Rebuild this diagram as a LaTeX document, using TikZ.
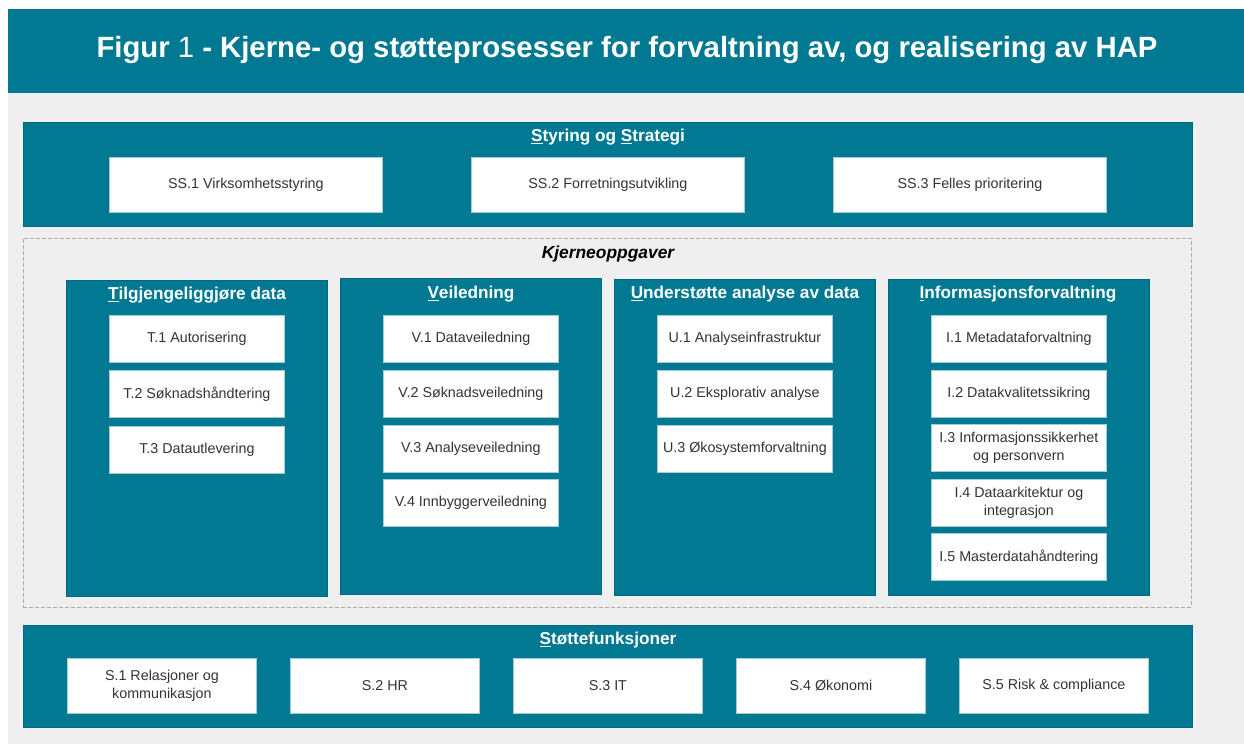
\documentclass[tikz,border=0pt]{standalone}
\usepackage{fontspec}
\setmainfont{Liberation Sans}
\definecolor{teal1}{RGB}{2,121,146}
\definecolor{tealedge}{RGB}{0,104,128}
\definecolor{bggrey}{RGB}{239,239,239}
\definecolor{dashgrey}{RGB}{170,170,170}
\definecolor{boxedge}{RGB}{168,204,214}
\definecolor{boxtext}{RGB}{51,51,51}
\begin{document}
\begin{tikzpicture}[x=1pt,y=-1pt,
  band/.style={fill=teal1,draw=tealedge,line width=0.6pt,anchor=north west,inner sep=0pt},
  wbox/.style={fill=white,draw=boxedge,line width=0.8pt,anchor=north west,inner sep=1pt,
    align=center,text=boxtext,font=\fontsize{14.3}{17.5}\selectfont},
  ibox/.style={wbox,minimum width=175pt,minimum height=47pt},
  sbox/.style={wbox,minimum width=273pt,minimum height=55pt},
  bbox/.style={wbox,minimum width=189pt,minimum height=55pt},
  col/.style={band,minimum width=261pt,minimum height=316pt},
  head/.style={text=white,font=\fontsize{17.2}{20}\selectfont\bfseries,inner sep=0pt},
]
\useasboundingbox (0,0) rectangle (1244,744);
\fill[white] (0,0) rectangle (1244,744);
\node[fill=bggrey,anchor=north west,minimum width=1236pt,minimum height=652pt,inner sep=0pt] (bg) at (8,92) {};
\node[fill=teal1,anchor=north west,minimum width=1236pt,minimum height=84pt,inner sep=0pt] (titleband) at (8,9) {};
\node[text=white,font=\fontsize{29.3}{34}\selectfont] (title) at (627,50)
  {\bfseries Figur \mdseries 1 \bfseries - Kjerne- og støtteprosesser for forvaltning av, og realisering av HAP};

% Styring og Strategi
\node[band,minimum width=1169pt,minimum height=104pt] (ssband) at (23,122) {};
\node[head] (sshead) at (608,137) {\underline{S}tyring og \underline{S}trategi};
\node[sbox] (ss1) at (109,157) {SS.1 Virksomhetsstyring};
\node[sbox] (ss2) at (471,157) {SS.2 Forretningsutvikling};
\node[sbox] (ss3) at (833,157) {SS.3 Felles prioritering};

% Kjerneoppgaver
\node[draw=dashgrey,dashed,dash pattern=on 4pt off 2pt,line width=0.7pt,anchor=north west,
  minimum width=1168pt,minimum height=369pt,inner sep=0pt] (kjerne) at (23,238) {};
\node[font=\fontsize{17.4}{20}\selectfont\bfseries\itshape,text=black,inner sep=0pt] (kjhead) at (608,254) {Kjerneoppgaver};

\node[col] (colT) at (66,280) {};
\node[col] (colV) at (340,278) {};
\node[col] (colU) at (614,279) {};
\node[col] (colI) at (888,279) {};
\node[head] (hT) at (197,295) {\underline{T}ilgjengeliggjøre data};
\node[head] (hV) at (471,294) {\underline{V}eiledning};
\node[head] (hU) at (745,294) {\underline{U}nderstøtte analyse av data};
\node[head] (hI) at (1018,294) {\underline{I}nformasjonsforvaltning};

\node[ibox] (t1) at (109,315) {T.1 Autorisering};
\node[ibox] (t2) at (109,370) {T.2 Søknadshåndtering};
\node[ibox] (t3) at (109,426) {T.3 Datautlevering};

\node[ibox] (v1) at (383,315) {V.1 Dataveiledning};
\node[ibox] (v2) at (383,370) {V.2 Søknadsveiledning};
\node[ibox] (v3) at (383,425) {V.3 Analyseveiledning};
\node[ibox] (v4) at (383,479) {V.4 Innbyggerveiledning};

\node[ibox] (u1) at (657,315) {U.1 Analyseinfrastruktur};
\node[ibox] (u2) at (657,370) {U.2 Eksplorativ analyse};
\node[ibox] (u3) at (657,425) {U.3 Økosystemforvaltning};

\node[ibox] (i1) at (931,315) {I.1 Metadataforvaltning};
\node[ibox] (i2) at (931,370) {I.2 Datakvalitetssikring};
\node[ibox] (i3) at (931,424) {I.3 Informasjonssikkerhet\\og personvern};
\node[ibox] (i4) at (931,479) {I.4 Dataarkitektur og\\integrasjon};
\node[ibox] (i5) at (931,533) {I.5 Masterdatahåndtering};

% Støttefunksjoner
\node[band,minimum width=1169pt,minimum height=102pt] (sband) at (23,625) {};
\node[head] (shead) at (608,640) {\underline{S}tøttefunksjoner};
\node[bbox] (s1) at (67,658) {S.1 Relasjoner og\\kommunikasjon};
\node[bbox] (s2) at (290,658) {S.2 HR};
\node[bbox] (s3) at (513,658) {S.3 IT};
\node[bbox] (s4) at (736,658) {S.4 Økonomi};
\node[bbox] (s5) at (959,658) {S.5 Risk \& compliance};
\end{tikzpicture}
\end{document}
